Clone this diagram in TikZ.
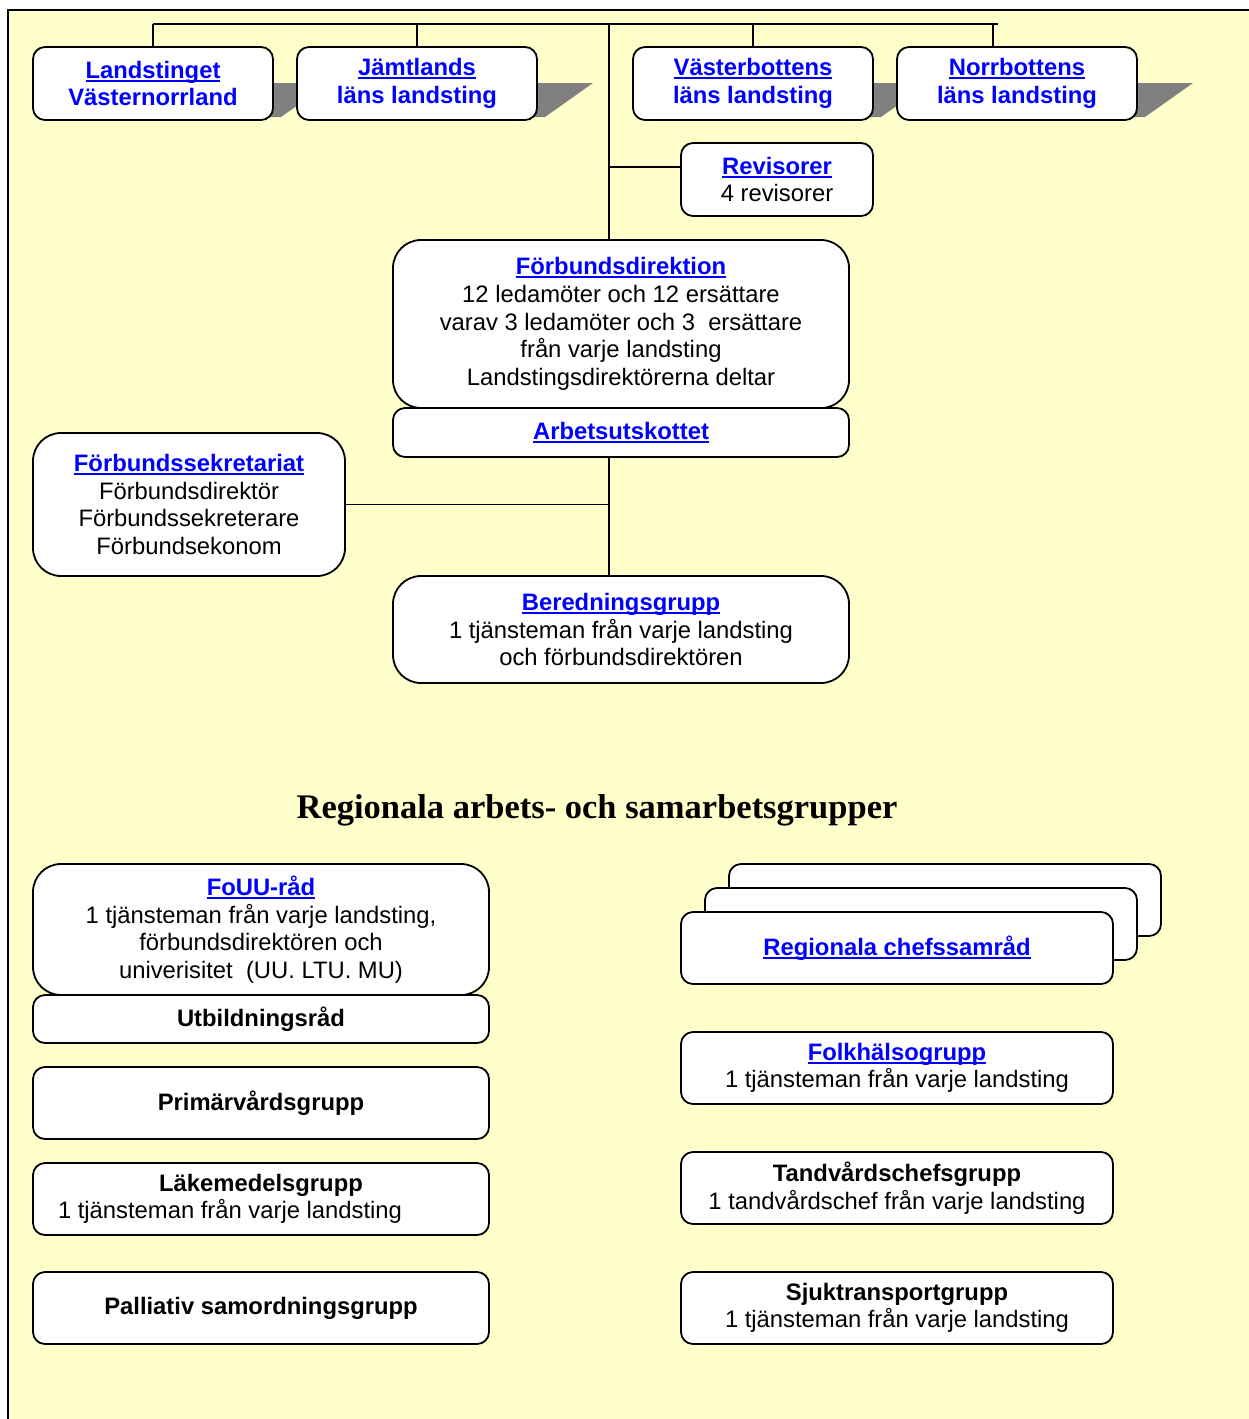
\documentclass[tikz,border=0pt]{standalone}
\usepackage{fontspec}
\setmainfont{Liberation Sans}
\newfontfamily\titlefont{Liberation Serif}
\usepackage{tikz}
\usetikzlibrary{calc}
\definecolor{paper}{HTML}{FFFFCC}
\definecolor{linkblue}{HTML}{0000FF}
\definecolor{shade}{HTML}{808080}
\newcommand{\boxfont}{\fontsize{23.8}{27.6}\selectfont}
\newcommand{\hd}[1]{{\color{linkblue}\bfseries\setbox0=\hbox{#1}\rlap{\rule[-3.5pt]{\wd0}{2pt}}\box0}}
\newcommand{\bl}[1]{{\color{linkblue}\bfseries #1}}
\tikzset{
  box/.style = {draw, fill=white, line width=1.8pt, rounded corners=12pt,
    align=center, inner sep=0pt, font=\boxfont},
  bigbox/.style = {box, rounded corners=28pt},
  wire/.style = {line width=1.8pt},
  shadow/.style = {fill=shade, draw=none}
}

\begin{document}
\begin{tikzpicture}[x=1pt,y=-1pt]
  \useasboundingbox (0,0) rectangle (1249,1419);
  \fill[white] (0,0) rectangle (1249,1419);
  \draw[fill=paper, line width=2pt] (8,10) rectangle (1270,1440);
  %%% shadows of the county boxes
  \foreach \xx in {273,537,873,1137} {
    \fill[shadow] (\xx-12,83) -- (\xx+56,83) -- (\xx+8,117) -- (\xx-12,117) -- cycle;
  }
  %%% county councils
  \node[box, minimum width=240pt, minimum height=73pt] (vn) at (153,83.5)
    {\hd{Landstinget}\\ \bl{Västernorrland}};
  \node[box, minimum width=240pt, minimum height=73pt] (jl) at (417,83.5)
    {\hd{Jämtlands}\\ \bl{läns landsting}};
  \node[box, minimum width=240pt, minimum height=73pt] (vb) at (753,83.5)
    {\hd{Västerbottens}\\ \bl{läns landsting}};
  \node[box, minimum width=240pt, minimum height=73pt] (nb) at (1017,83.5)
    {\hd{Norrbottens}\\ \bl{läns landsting}};
  %
  \coordinate (topL) at (153,24);
  \coordinate (topR) at (998,24);
  \coordinate (spine) at (609,24);
  \coordinate (nbtap) at (993,24);
  \draw[wire] (topL) -- (topR);
  \draw[wire] (vn.north) -- (vn.north |- topL);
  \draw[wire] (jl.north) -- (jl.north |- topL);
  \draw[wire] (vb.north) -- (vb.north |- topL);
  \draw[wire] (nbtap) -- (nbtap |- nb.north);
  %%% board
  \node[box, minimum width=192pt, minimum height=73pt] (rev) at (777,179.5)
    {\hd{Revisorer}\\ 4 revisorer};
  \node[bigbox, minimum width=456pt, minimum height=168pt] (fd) at (621,324)
    {\hd{Förbundsdirektion}\\ 12 ledamöter och 12 ersättare\\
     varav 3 ledamöter och 3\ \ ersättare\\ från varje landsting\\
     Landstingsdirektörerna deltar};
  \node[box, minimum width=456pt, minimum height=49pt] (au) at (621,432.5)
    {\hd{Arbetsutskottet}};
  \node[bigbox, minimum width=312pt, minimum height=143pt] (sek) at (189,504.5)
    {\hd{Förbundssekretariat}\\ Förbundsdirektör\\ Förbundssekreterare\\ Förbundsekonom};
  \node[bigbox, minimum width=456pt, minimum height=107pt] (ber) at (621,629.5)
    {\hd{Beredningsgrupp}\\ 1 tjänsteman från varje landsting\\ och förbundsdirektören};
  %
  \coordinate (revtap) at ($(rev.west)+(0,-12.5)$);
  \draw[wire] (spine) -- (spine |- fd.north);
  \draw[wire] (spine |- revtap) -- (revtap);
  \draw[wire] (spine |- au.south) -- (spine |- ber.north);
  \draw[wire] (sek.east) -- (spine |- sek.east);
  %%% regional groups
  \node[font=\titlefont\bfseries\fontsize{34.5}{40}\selectfont] (title) at (597,810)
    {Regionala arbets- och samarbetsgrupper};
  %
  \node[bigbox, minimum width=456pt, minimum height=131pt] (fouu) at (261,929.5)
    {\hd{FoUU-råd}\\ 1 tjänsteman från varje landsting,\\ förbundsdirektören och\\
     univerisitet\ \ (UU. LTU. MU)};
  \node[box, minimum width=456pt, minimum height=48pt] (utb) at (261,1019)
    {\bfseries Utbildningsråd};
  \node[box, minimum width=456pt, minimum height=72pt] (prim) at (261,1103)
    {\bfseries Primärvårdsgrupp};
  \node[box, minimum width=456pt, minimum height=72pt] (lak) at (261,1199)
    {\bfseries Läkemedelsgrupp\\ 1 tjänsteman från varje landsting\hspace*{62pt}};
  \node[box, minimum width=456pt, minimum height=72pt] (pal) at (261,1308)
    {\bfseries Palliativ samordningsgrupp};
  %
  \node[box, minimum width=432pt, minimum height=72pt] (cs3) at (945,900) {};
  \node[box, minimum width=432pt, minimum height=72pt] (cs2) at (921,924) {};
  \node[box, minimum width=432pt, minimum height=72pt] (cs) at (897,948)
    {\hd{Regionala chefssamråd}};
  \node[box, minimum width=432pt, minimum height=72pt] (folk) at (897,1068)
    {\hd{Folkhälsogrupp}\\ 1 tjänsteman från varje landsting};
  \node[box, minimum width=432pt, minimum height=72pt] (tand) at (897,1188)
    {\bfseries Tandvårdschefsgrupp\\ 1 tandvårdschef från varje landsting};
  \node[box, minimum width=432pt, minimum height=72pt] (sjuk) at (897,1308)
    {\bfseries Sjuktransportgrupp\\ 1 tjänsteman från varje landsting};
\end{tikzpicture}
\end{document}
